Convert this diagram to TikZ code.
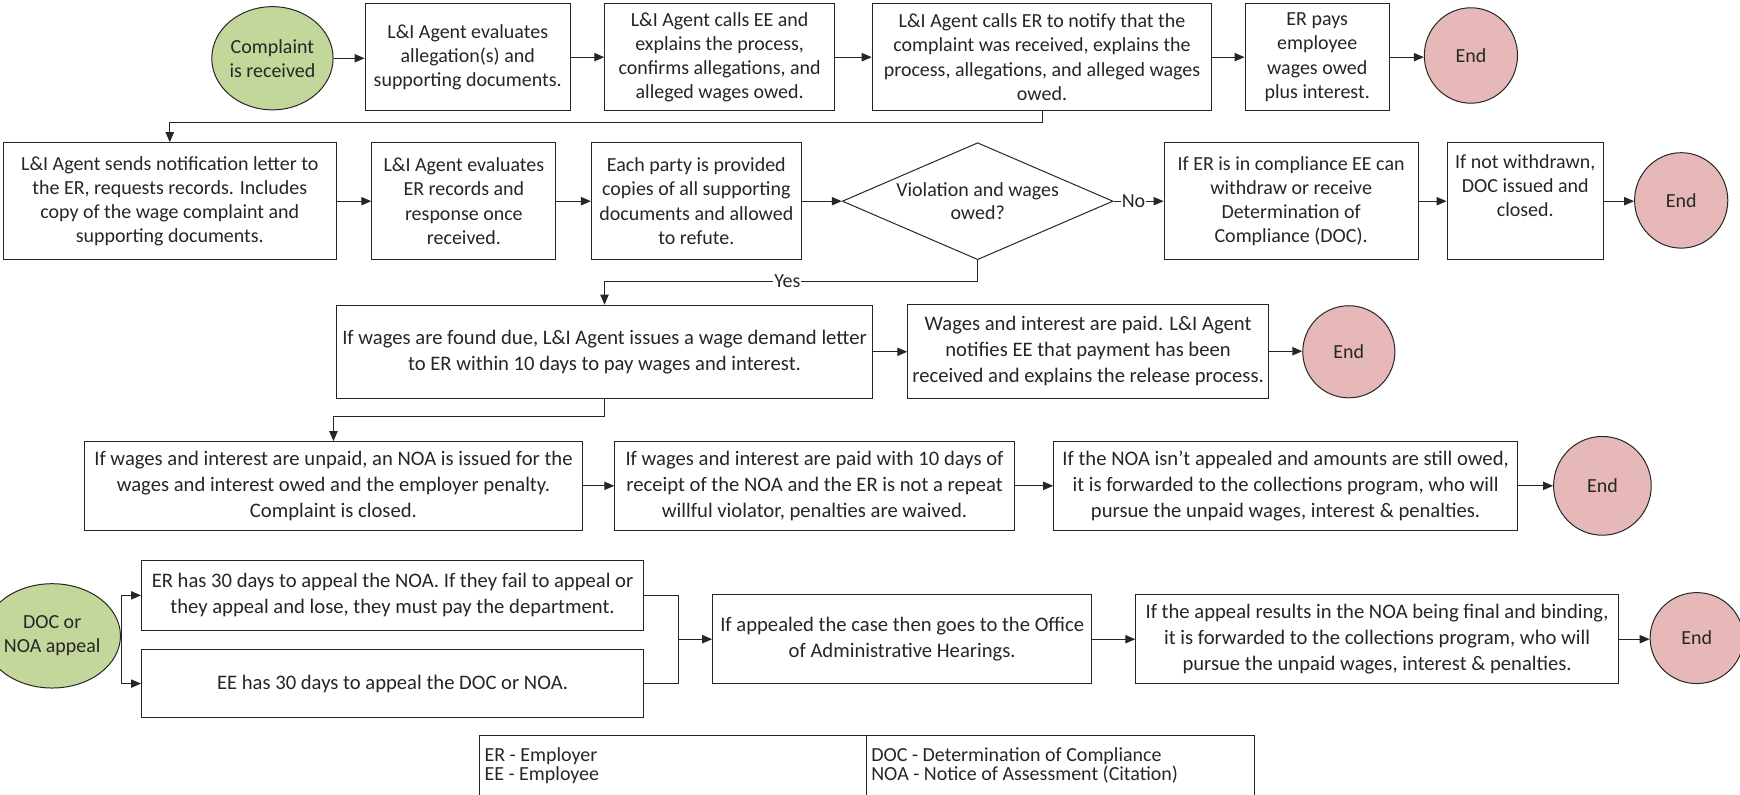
\documentclass[tikz,border=0pt]{standalone}
\usepackage{fontspec}
\setmainfont{Carlito}
\usetikzlibrary{arrows.meta,shapes.geometric}
\definecolor{startgreen}{HTML}{C4D79B}
\definecolor{endpink}{HTML}{E6B9B8}
\definecolor{ink}{HTML}{262626}
\begin{document}
\begin{tikzpicture}[x=1pt,y=-1pt,
  every node/.style={text=ink},
  box/.style={draw=black!85,line width=0.9pt,fill=white,align=center,inner sep=0pt,
    font=\fontsize{18}{21.8}\selectfont},
  boxb/.style={box,font=\fontsize{18.6}{23.5}\selectfont},
  startnode/.style={ellipse,draw=black!85,line width=0.9pt,fill=startgreen,align=center,inner sep=0pt,
    font=\fontsize{18}{21.5}\selectfont},
  endnode/.style={ellipse,draw=black!85,line width=0.9pt,fill=endpink,align=center,inner sep=0pt,
    font=\fontsize{18}{21.5}\selectfont},
  decision/.style={diamond,draw=black!85,line width=0.9pt,fill=white,align=center,inner sep=0pt},
  arr/.style={draw=black!85,line width=0.9pt,-{Triangle[length=9pt,width=7.5pt]}},
  ln/.style={draw=black!85,line width=0.9pt},
  lbl/.style={fill=white,inner sep=1pt,font=\fontsize{18}{21.5}\selectfont},
  lgtext/.style={anchor=base west,inner sep=0pt,font=\fontsize{18}{17}\selectfont}
]
\useasboundingbox (0,0) rectangle (1568,716);

% Row 1
\node[startnode,minimum width=96pt,minimum height=93pt] (cr) at (245.5,52.5) {Complaint\\is received};
\node[box,minimum width=185pt,minimum height=97pt] (A) at (421.5,51.5) {L\&I Agent evaluates\\allegation(s) and\\supporting documents.};
\node[box,minimum width=207pt,minimum height=97pt] (B) at (648.5,51.5) {L\&I Agent calls EE and\\explains the process,\\confirms allegations, and\\alleged wages owed.};
\node[box,minimum width=306pt,minimum height=97pt] (C) at (939,51.5) {L\&I Agent calls ER to notify that the\\complaint was received, explains the\\process, allegations, and alleged wages\\owed.};
\node[box,minimum width=130pt,minimum height=97pt] (D) at (1187,51.5) {ER pays\\employee\\wages owed\\plus interest.};
\node[endnode,minimum width=84pt,minimum height=86pt] (end1) at (1325.5,50) {End};

% Row 2
\node[box,minimum width=300pt,minimum height=105.4pt] (E) at (153,181.3) {L\&I Agent sends notification letter to\\the ER, requests records. Includes\\copy of the wage complaint and\\supporting documents.};
\node[box,minimum width=166pt,minimum height=105.4pt] (F) at (418,181.3) {L\&I Agent evaluates\\ER records and\\response once\\received.};
\node[box,minimum width=189pt,minimum height=105.4pt] (G) at (627.5,181.3) {Each party is provided\\copies of all supporting\\documents and allowed\\to refute.};
\node[decision,minimum width=244pt,minimum height=105.4pt] (dia) at (881,181.3) {};
\node[align=center,font=\fontsize{18}{21.5}\selectfont] (diat) at (dia.center) {Violation and wages\\owed?};
\node[box,minimum width=229pt,minimum height=105.4pt] (H) at (1163.5,181.3) {If ER is in compliance EE can\\withdraw or receive\\Determination of\\Compliance (DOC).};
\node[box,minimum width=141pt,minimum height=105.4pt] (I) at (1374.5,181.3) {If not withdrawn,\\DOC issued and\\closed.\\[6pt]};
\node[endnode,minimum width=84pt,minimum height=86pt] (end2) at (1515,180.6) {End};

% Row 3
\node[boxb,minimum width=482.5pt,minimum height=84pt] (J) at (544.75,317) {If wages are found due, L\&I Agent issues a wage demand letter\\to ER within 10 days to pay wages and interest.};
\node[boxb,minimum width=325pt,minimum height=85pt] (M) at (980.5,316.5) {Wages and interest are paid. L\&I Agent\\notifies EE that payment has been\\received and explains the release process.};
\node[endnode,minimum width=83pt,minimum height=83pt] (end3) at (1215.5,317) {End};

% Row 4
\node[boxb,minimum width=449pt,minimum height=79.6pt] (K) at (300.5,437.8) {If wages and interest are unpaid, an NOA is issued for the\\wages and interest owed and the employer penalty.\\Complaint is closed.};
\node[boxb,minimum width=360pt,minimum height=79.6pt] (L) at (734,437.8) {If wages and interest are paid with 10 days of\\receipt of the NOA and the ER is not a repeat\\willful violator, penalties are waived.};
\node[boxb,minimum width=418pt,minimum height=79.6pt] (N) at (1158.5,437.8) {If the NOA isn’t appealed and amounts are still owed,\\it is forwarded to the collections program, who will\\pursue the unpaid wages, interest \& penalties.};
\node[endnode,minimum width=88pt,minimum height=89pt] (end4) at (1444,437.8) {End};

% Row 5
\node[startnode,minimum width=94pt,minimum height=94pt] (doc) at (47,573) {DOC or\\NOA appeal};
\node[boxb,minimum width=452.5pt,minimum height=63pt] (O) at (353.75,536.5) {ER has 30 days to appeal the NOA. If they fail to appeal or\\they appeal and lose, they must pay the department.};
\node[boxb,minimum width=452.5pt,minimum height=62pt] (P) at (353.75,616) {EE has 30 days to appeal the DOC or NOA.};
\node[boxb,minimum width=341.5pt,minimum height=80pt] (Q) at (813,576) {If appealed the case then goes to the Office\\of Administrative Hearings.};
\node[boxb,minimum width=435pt,minimum height=80pt] (R) at (1241,576) {If the appeal results in the NOA being final and binding,\\it is forwarded to the collections program, who will\\pursue the unpaid wages, interest \& penalties.};
\node[endnode,minimum width=84pt,minimum height=82pt] (end5) at (1529,575) {End};

% Legend
\coordinate (lgTL) at (432.5,662.8);
\coordinate (lgTM) at (781,662.8);
\coordinate (lgTR) at (1130.5,662.8);
\coordinate (lgBL) at (432.5,716);
\coordinate (lgBM) at (781,716);
\coordinate (lgBR) at (1130.5,716);
\draw[ln] (lgBL) -- (lgTL) -- (lgTR) -- (lgBR);
\draw[ln] (lgTM) -- (lgBM);
\node[lgtext] (lg1) at (436.5,686) {ER - Employer};
\node[lgtext] (lg2) at (436.5,703) {EE - Employee};
\node[lgtext] (lg3) at (785,686) {DOC - Determination of Compliance};
\node[lgtext] (lg4) at (785,703) {NOA - Notice of Assessment (Citation)};

% Connectors row 1
\draw[arr] (cr.east) -- (cr.east -| A.west);
\draw[arr] (A.east) -- (B.west);
\draw[arr] (B.east) -- (C.west);
\draw[arr] (C.east) -- (D.west);
\draw[arr] (D.east) -- (D.east -| end1.west);
\draw[arr] (C.south) -- ++(0,10) -| (E.north);

% Row 2
\draw[arr] (E.east) -- (F.west);
\draw[arr] (F.east) -- (G.west);
\draw[arr] (G.east) -- (dia.west);
\draw[arr] (dia.east) -- node[lbl,pos=0.4,inner sep=0.5pt] (nolbl) {No} (H.west);
\draw[arr] (H.east) -- (I.west);
\draw[arr] (I.east) -- (I.east -| end2.west);
\draw[arr] (dia.south) -- ++(0,19) -| node[lbl,pos=0.255] (yeslbl) {Yes} (J.north);

% Row 3
\draw[arr] (J.east) -- (J.east -| M.west);
\draw[arr] (M.east) -- (M.east -| end3.west);
\draw[arr] (J.south) -- ++(0,16) -| (K.north);

% Row 4
\draw[arr] (K.east) -- (L.west);
\draw[arr] (L.east) -- (N.west);
\draw[arr] (N.east) -- (N.east -| end4.west);

% Row 5
\coordinate (br) at (109.7,573);
\coordinate (mg) at (611,576);
\draw[ln] (doc.east) -- (br);
\draw[arr] (br) |- (O.west);
\draw[arr] (br) |- (P.west);
\draw[ln] (O.east) -| (mg);
\draw[ln] (P.east) -| (mg);
\draw[arr] (mg) -- (Q.west);
\draw[arr] (Q.east) -- (R.west);
\draw[arr] (R.east) -- (R.east -| end5.west);
\end{tikzpicture}
\end{document}
